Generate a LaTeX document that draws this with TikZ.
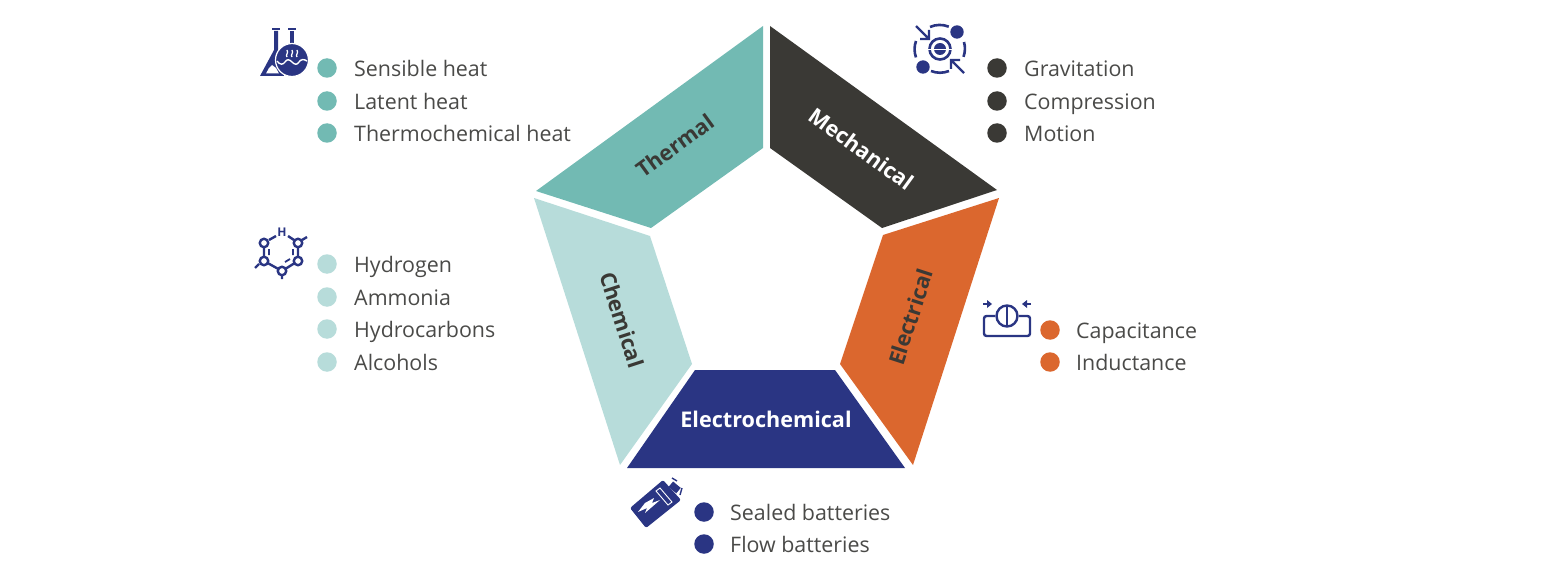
\documentclass[tikz,border=0pt]{standalone}
\usepackage{fontspec}
\setmainfont{Open Sans}
\definecolor{thermal}{HTML}{72BAB3}
\definecolor{mecanique}{HTML}{3A3935}
\definecolor{electrique}{HTML}{DB672E}
\definecolor{electrochimique}{HTML}{2A3583}
\definecolor{chimique}{HTML}{B7DCDA}
\definecolor{texte}{HTML}{4A4A48}
\begin{document}
\begin{tikzpicture}[x=1pt,y=-1pt]
	\tikzset{puce/.style={circle, inner sep=0pt, minimum size=19.5pt},
		item/.style={anchor=west, inner sep=0pt, text=texte, text height=17.5pt, text depth=0pt, font=\fontsize{21.4}{24}\selectfont},
		titre/.style={inner sep=0pt, text height=15.5pt, text depth=0pt, font=\fontsize{21.6}{24}\selectfont\bfseries},
		icone/.style={draw=electrochimique, line width=2.4pt},
		atome/.style={circle, draw=electrochimique, line width=2.4pt, fill=white, inner sep=0pt, minimum size=8.5pt}};
	\useasboundingbox (0,0) rectangle (1550,575);

	% sectors
	\fill[thermal] (763,26) -- (763,148) -- (651,228) -- (536,191) -- cycle;
	\fill[mecanique] (770,26) -- (997,190) -- (882,228) -- (770,148) -- cycle;
	\fill[electrique] (999,198) -- (913,465) -- (840,364) -- (883,235) -- cycle;
	\fill[electrochimique] (905,468) -- (627,468) -- (695,370) -- (835,370) -- cycle;
	\fill[chimique] (534,198) -- (650,236) -- (692,364) -- (620,465) -- cycle;

	\node[titre, text=mecanique, rotate=36] (thermique) at (675,146) {Thermal};
	\node[titre, text=white, rotate=-36] (mechanical) at (861,149) {Mechanical};
	\node[titre, text=mecanique, rotate=72] (electrical) at (911,317) {Electrical};
	\node[titre, text=white] (electrochemical) at (766,420) {Electrochemical};
	\node[titre, text=mecanique, rotate=-72] (chemical) at (622,320) {Chemical};

	% thermal list
	\node[puce, fill=thermal] (p1) at (327,68) {};
	\node[puce, fill=thermal] (p2) at (327,101) {};
	\node[puce, fill=thermal] (p3) at (327,133) {};
	\node[item] (t1) at (354,68) {Sensible heat};
	\node[item] (t2) at (354,101) {Latent heat};
	\node[item] (t3) at (354,133) {Thermochemical heat};

	% mechanical list
	\node[puce, fill=mecanique] (p4) at (997,68) {};
	\node[puce, fill=mecanique] (p5) at (997,101) {};
	\node[puce, fill=mecanique] (p6) at (997,133) {};
	\node[item] (t4) at (1024,68) {Gravitation};
	\node[item] (t5) at (1024,101) {Compression};
	\node[item] (t6) at (1024,133) {Motion};

	% chemical list
	\node[puce, fill=chimique] (p7) at (327,264) {};
	\node[puce, fill=chimique] (p8) at (327,297) {};
	\node[puce, fill=chimique] (p9) at (327,329) {};
	\node[puce, fill=chimique] (p10) at (327,362) {};
	\node[item] (t7) at (354,264) {Hydrogen};
	\node[item] (t8) at (354,297) {Ammonia};
	\node[item] (t9) at (354,329) {Hydrocarbons};
	\node[item] (t10) at (354,362) {Alcohols};

	% electrical list
	\node[puce, fill=electrique] (p11) at (1050,330) {};
	\node[puce, fill=electrique] (p12) at (1050,362) {};
	\node[item] (t11) at (1076,330) {Capacitance};
	\node[item] (t12) at (1076,362) {Inductance};

	% electrochemical list
	\node[puce, fill=electrochimique] (p13) at (704,512) {};
	\node[puce, fill=electrochimique] (p14) at (704,544) {};
	\node[item] (t13) at (730,512) {Sealed batteries};
	\node[item] (t14) at (730,544) {Flow batteries};

	% flask icon
	\draw[icone] (272,29) -- (280,29) (288,29) -- (296,29);
	\fill[electrochimique] (274,31) -- (278,31) -- (278,50) -- (284,76) -- (260,76) -- (274,50) -- cycle;
	\fill[electrochimique] (290,31) -- (294,31) -- (294,46) -- (290,46) -- cycle;
	\fill[white] (266,73.5) -- (269,68) -- (272,65) -- (276,68) -- (279,73.5) -- cycle;
	\fill[electrochimique, draw=white, line width=1.2pt] (292,60) circle (16.5);
	\draw[white, line width=1.4pt] (277,61) .. controls (280,65) and (283,65) .. (285,62) .. controls (287,59) and (289,59) .. (292,62) .. controls (295,65) and (297,65) .. (299,62) .. controls (301,59) and (304,59) .. (307,61);
	\draw[white, line width=1.3pt] (287,57) .. controls (285,55) and (289,53) .. (287,50) (292,57) .. controls (290,55) and (294,53) .. (292,50) (297,57) .. controls (295,55) and (299,53) .. (297,50);

	% orbit icon
	\draw[icone, line width=2.6pt] (940,49) circle (10.5);
	\fill[electrochimique] (940,49) circle (6);
	\draw[white, line width=.5pt] (915,49) -- (965,49);
	\draw[icone, line width=2.6pt] (930,27) arc (-114:-68:24) (964,42) arc (-16:20:24) (931,71) arc (112:68:24) (916,41) arc (200:160:24);
	\fill[electrochimique] (957,32) circle (6.7);
	\fill[electrochimique] (923,67) circle (6.7);
	\draw[icone] (916,26) -- (928,38) (929,30) -- (929,39) -- (920,39);
	\draw[icone] (964,73) -- (952,61) (951,69) -- (951,60) -- (960,60);

	% molecule icon
	\draw[icone] (269,240) -- (276,236) (288,236) -- (294,240) (302,240) -- (307,237);
	\draw[icone] (264,243) -- (264,261) (298,243) -- (298,261) (264,261) -- (282,271) -- (298,261);
	\draw[icone] (259,264) -- (255,268) (282,271) -- (282,279);
	\draw[icone, line width=1.8pt] (269,249) -- (269,255) (293,249) -- (293,255) (285,262) -- (290,259);
	\node[atome] (a1) at (264,243) {};
	\node[atome] (a2) at (264,261) {};
	\node[atome] (a3) at (282,271) {};
	\node[atome] (a4) at (298,261) {};
	\node[atome] (a5) at (298,243) {};
	\node[text=electrochimique, inner sep=0pt, font=\fontsize{12}{12}\selectfont\bfseries] (a6) at (282,232) {H};

	% capacitor icon
	\draw[icone, rounded corners=2.5pt] (995,316) -- (984,316) -- (984,336) -- (1030,336) -- (1030,316) -- (1019,316);
	\draw[icone, fill=white] (1007,316) circle (10.5);
	\draw[icone] (1007,306) -- (1007,326);
	\draw[icone] (983,304) -- (989,304) (1031,304) -- (1025,304);
	\fill[electrochimique] (992,304) -- (987,300) -- (987,308) -- cycle;
	\fill[electrochimique] (1022,304) -- (1027,300) -- (1027,308) -- cycle;

	% battery icon
	\fill[electrochimique, rounded corners=2pt] (630,508) -- (646,528) -- (681,500) -- (663,480) -- cycle;
	\draw[white, line width=.9pt] (656,491) -- (668,505) -- (672,502) -- (660,488) -- cycle;
	\fill[white] (638,512) -- (647,508) -- (645,513) -- (660,500) -- (652,503) -- (654,498) -- (645,503) -- cycle;
	\fill[electrochimique, rotate around={-40:(675,487)}] (670,484) rectangle (680,491);
	\draw[icone, line width=1.4pt] (672,478) -- (677,481) (682,488) -- (680,495);
\end{tikzpicture}
\end{document}
